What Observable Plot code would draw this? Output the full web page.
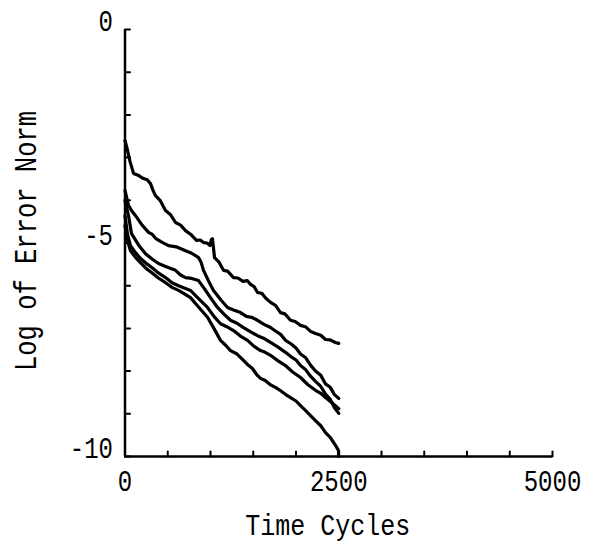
<!DOCTYPE html>
<html><head><meta charset="utf-8">
<script src="https://cdn.jsdelivr.net/npm/d3@7"></script>
<script src="https://cdn.jsdelivr.net/npm/@observablehq/plot@0.6"></script>
<style>
body{margin:0;background:#fff}
svg{font-family:"Liberation Mono","DejaVu Sans Mono",monospace}
</style>
</head><body><div id="chart"></div>
<script>
const xTicks = [0,500,1000,1500,2000,2500,3000,3500,4000,4500,5000];
const xLabels = [0,2500,5000];
const yTicks = [0,-1,-2,-3,-4,-5,-6,-7,-8,-9,-10];
const yLabels = [0,-5,-10];
const xTitle = "Time Cycles";
const yTitle = "Log of Error Norm";

const run1 = [[0,-2.6],[20,-2.75],[60,-3.1],[100,-3.37],[160,-3.42],[216,-3.49],[260,-3.52],[298,-3.61],[330,-3.78],[357,-3.89],[410,-4.0],[474,-4.24],[530,-4.33],[591,-4.52],[650,-4.58],[708,-4.71],[770,-4.8],[836,-4.94],[880,-4.93],[918,-4.99],[960,-5.0],[994,-5.06],[1010,-4.92],[1023,-4.9],[1047,-5.34],[1100,-5.45],[1152,-5.64],[1200,-5.66],[1269,-5.81],[1320,-5.82],[1380,-5.9],[1430,-5.88],[1468,-5.97],[1510,-6.02],[1550,-6.16],[1600,-6.18],[1650,-6.3],[1702,-6.39],[1760,-6.46],[1819,-6.63],[1870,-6.66],[1936,-6.81],[1990,-6.84],[2053,-6.93],[2110,-6.96],[2170,-7.07],[2228,-7.12],[2290,-7.16],[2345,-7.26],[2400,-7.27],[2460,-7.33],[2500,-7.35]];
const run2 = [[0,-3.77],[41,-4.12],[80,-4.25],[123,-4.36],[200,-4.58],[275,-4.75],[320,-4.8],[357,-4.89],[430,-4.98],[509,-5.06],[600,-5.09],[708,-5.18],[780,-5.24],[860,-5.34],[890,-5.45],[918,-5.64],[980,-5.9],[1035,-6.11],[1120,-6.33],[1199,-6.51],[1270,-6.57],[1351,-6.63],[1420,-6.72],[1480,-6.74],[1550,-6.81],[1620,-6.9],[1702,-6.98],[1760,-7.06],[1820,-7.14],[1877,-7.28],[1940,-7.36],[2000,-7.46],[2053,-7.6],[2110,-7.68],[2170,-7.86],[2228,-8.0],[2290,-8.1],[2345,-8.3],[2400,-8.38],[2450,-8.55],[2500,-8.64]];
const run3 = [[0,-4.0],[41,-4.36],[76,-4.78],[160,-5.05],[240,-5.25],[320,-5.38],[392,-5.48],[490,-5.56],[591,-5.64],[650,-5.75],[708,-5.81],[780,-5.83],[860,-5.88],[918,-6.04],[1000,-6.28],[1082,-6.51],[1160,-6.67],[1234,-6.81],[1310,-6.88],[1386,-6.98],[1470,-7.08],[1550,-7.17],[1620,-7.23],[1702,-7.33],[1790,-7.44],[1877,-7.56],[1940,-7.66],[2000,-7.74],[2053,-7.87],[2110,-7.96],[2170,-8.12],[2228,-8.24],[2290,-8.36],[2345,-8.54],[2400,-8.66],[2450,-8.86],[2500,-8.99]];
const run4 = [[0,-4.36],[30,-4.8],[64,-5.06],[120,-5.22],[181,-5.36],[250,-5.48],[310,-5.57],[390,-5.7],[474,-5.81],[550,-5.93],[626,-6.0],[700,-6.06],[766,-6.11],[860,-6.3],[965,-6.51],[1040,-6.72],[1117,-6.89],[1190,-6.96],[1269,-7.05],[1350,-7.18],[1433,-7.28],[1510,-7.42],[1585,-7.52],[1640,-7.56],[1702,-7.63],[1790,-7.76],[1877,-7.87],[1960,-8.02],[2053,-8.15],[2140,-8.32],[2228,-8.45],[2290,-8.52],[2345,-8.62],[2420,-8.74],[2500,-8.88]];
const run5 = [[0,-4.59],[30,-4.95],[64,-5.18],[120,-5.33],[181,-5.46],[250,-5.6],[310,-5.69],[390,-5.82],[474,-5.93],[550,-6.04],[626,-6.11],[700,-6.2],[766,-6.28],[860,-6.5],[965,-6.74],[1040,-7.0],[1117,-7.28],[1180,-7.4],[1234,-7.52],[1310,-7.6],[1386,-7.75],[1440,-7.86],[1490,-7.94],[1540,-8.08],[1585,-8.17],[1640,-8.22],[1700,-8.32],[1760,-8.38],[1820,-8.46],[1880,-8.55],[1936,-8.62],[2000,-8.7],[2053,-8.81],[2110,-8.92],[2170,-9.04],[2228,-9.16],[2290,-9.28],[2345,-9.44],[2400,-9.55],[2462,-9.74],[2497,-9.86],[2500,-10]];

const runs = [run1, run2, run3, run4, run5];
const data = runs.flatMap((r, i) => r.map(([t, v]) => ({s: i, t, v})));

const tickShape = {draw(ctx, l) { ctx.moveTo(0, 0); ctx.lineTo(0, -l); }};

const chart = Plot.plot({
  width: 594,
  height: 548,
  marginLeft: 124.5,
  marginRight: 42,
  marginTop: 29,
  marginBottom: 92,
  x: {domain: [0, 5000], axis: null},
  y: {domain: [-10, 0], axis: null},
  style: {background: "#fff", color: "#000", fontFamily: "Liberation Mono, monospace"},
  marks: [
    Plot.ruleX([0], {y1: -10, y2: 0, strokeWidth: 2.5, stroke: "#000"}),
    Plot.ruleY([-10], {x1: 0, x2: 5000, strokeWidth: 2.5, stroke: "#000"}),
    Plot.vector(xTicks, {x: d => d, y: -10, length: 5, rotate: 0, anchor: "start", shape: tickShape, strokeWidth: 2, stroke: "#000"}),
    Plot.vector(yTicks, {x: 0, y: d => d, length: 5, rotate: 90, anchor: "start", shape: tickShape, strokeWidth: 2, stroke: "#000"}),
    Plot.line(data, {x: "t", y: "v", z: "s", stroke: "#000", strokeWidth: 3.2, strokeLinejoin: "round"}),
    Plot.text(xLabels, {x: d => d, y: -10, text: d => String(d), dy: 25, fontSize: 24, fill: "#000", className: "ticklab"}),
    Plot.text(yLabels, {x: 0, y: d => d, text: d => String(d), dx: -12, dy: -8, textAnchor: "end", fontSize: 24, fill: "#000", className: "ticklab"}),
    Plot.text([xTitle], {frameAnchor: "bottom", text: d => d, dx: -11, dy: 78, fontSize: 25, fill: "#000", className: "titlelab"}),
    Plot.text([yTitle], {frameAnchor: "left", text: d => d, textAnchor: "middle", dx: -99, dy: -2, rotate: -90, fontSize: 25.5, fill: "#000", className: "titlelab"})
  ]
});
document.getElementById("chart").appendChild(chart);
function stretch(sel, k) {
  d3.select(chart).selectAll(sel + " text").each(function() {
    const t = this.getAttribute("transform");
    if (t && t.includes("translate")) {
      this.setAttribute("transform", t + ` scale(1,${k})`);
    } else {
      const x = +this.getAttribute("x") || 0, y = +this.getAttribute("y") || 0;
      this.removeAttribute("x"); this.removeAttribute("y");
      this.setAttribute("transform", `translate(${x},${y})${t ? " " + t : ""} scale(1,${k})`);
    }
  });
}
stretch(".ticklab", 1.25);
stretch(".titlelab", 1.2);
</script>
</body></html>
